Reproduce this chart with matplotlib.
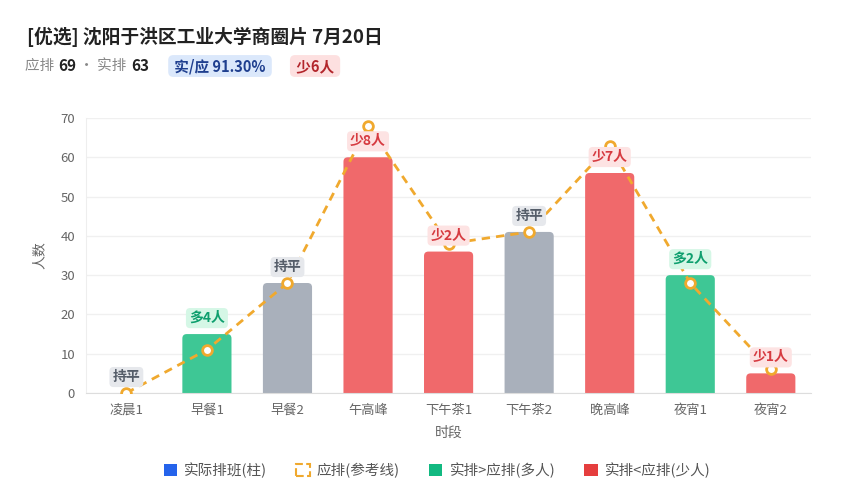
import matplotlib
matplotlib.use("Agg")
import matplotlib.pyplot as plt
from matplotlib.patches import Patch, FancyBboxPatch

plt.rcParams['font.family'] = ['Noto Sans CJK SC', 'DejaVu Sans']

# data
slots = ['凌晨1', '早餐1', '早餐2', '午高峰', '下午茶1', '下午茶2', '晚高峰', '夜宵1', '夜宵2']
actual = [0, 15, 28, 60, 36, 41, 56, 30, 5]
required = [0, 11, 28, 68, 38, 41, 63, 28, 6]
total_required = 69
total_actual = 63

GREEN = '#3ec795'
RED = '#f0696b'
GRAY = '#a9b0bb'
ORANGE = '#f0a92e'

fig = plt.figure(figsize=(8.44, 5.0), dpi=100)
ax = fig.add_axes([0.102, 0.214, 0.859, 0.55])

x = list(range(len(slots)))
colors = []
tags = []
for a, r in zip(actual, required):
    if a > r:
        colors.append(GREEN)
        tags.append(('多%d人' % (a - r), '#d5f7e6', '#0e9f6e'))
    elif a < r:
        colors.append(RED)
        tags.append(('少%d人' % (r - a), '#fde3e3', '#d63a40'))
    else:
        colors.append(GRAY)
        tags.append(('持平', '#e6e8ec', '#555d69'))

ax.set_xlim(-0.5, len(slots) - 0.5)
ax.set_ylim(0, 70)

# bars with rounded tops (bottom pushed below the axis and clipped)
bw = 0.61
for xi, a, c in zip(x, actual, colors):
    if a <= 0:
        continue
    p = FancyBboxPatch((xi - bw / 2, -3), bw, a + 3,
                       boxstyle='round,pad=0,rounding_size=0.055',
                       mutation_aspect=20, fc=c, ec='none', zorder=2)
    ax.add_patch(p)

ax.plot(x, required, color=ORANGE, linestyle=(0, (3, 2.2)), linewidth=2,
        marker='o', markersize=7, markerfacecolor='white', markeredgewidth=2,
        markeredgecolor=ORANGE, zorder=3)

for xi, a, (txt, bg, fg) in zip(x, actual, tags):
    ax.annotate(txt, (xi, a), xytext=(0, 11.5), textcoords='offset points',
                ha='center', va='center', fontsize=10, fontweight='bold', color=fg,
                bbox=dict(boxstyle='round,pad=0.22,rounding_size=0.3', fc=bg, ec='none'),
                zorder=4)

ax.set_yticks(range(0, 71, 10))
ax.set_xticks(x)
ax.set_xticklabels(slots)
ax.tick_params(length=0, labelsize=9.5, colors='#666666', pad=8)
ax.grid(axis='y', color='#f0f0f0', linewidth=1, zorder=0)
for s in ['top', 'right']:
    ax.spines[s].set_visible(False)
ax.spines['left'].set_color('#eeeeee')
ax.spines['bottom'].set_color('#dddddd')
ax.set_ylabel('人数', fontsize=10, color='#666666', labelpad=10)
ax.set_xlabel('时段', fontsize=10, color='#666666', labelpad=6)

# header
fig.text(27 / 844, 1 - 37 / 500, '[优选] 沈阳于洪区工业大学商圈片 7月20日',
         fontsize=13.5, fontweight='bold', color='#222222', va='center')

renderer = fig.canvas.get_renderer()
pos = 25
yy = 1 - 66 / 500
parts = [
    ('应排 ', '#888888', 'normal', None, 1, 10.5),
    (str(total_required), '#222222', 'bold', None, 0, 11),
    (' · 实排 ', '#888888', 'normal', None, 1, 10.5),
    (str(total_actual), '#222222', 'bold', None, 22, 11),
    (' 实/应 %.2f%% ' % (total_actual / total_required * 100), '#1f3f8f', 'bold', '#dbe8fb', 24, 10.5),
    (' 少%d人 ' % (total_required - total_actual), '#b3262c', 'bold', '#fde0e0', 0, 10.5),
]
for txt, col, w, bg, gap, fs in parts:
    kw = {}
    if bg:
        kw['bbox'] = dict(boxstyle='round,pad=0.2,rounding_size=0.35', fc=bg, ec='none')
    t = fig.text(pos / 844, yy, txt, fontsize=fs, color=col, fontweight=w, va='center', **kw)
    ext = t.get_window_extent(renderer)
    pos = ext.x1 + gap

handles = [
    Patch(facecolor='#2563eb', edgecolor='none', label='实际排班(柱)'),
    Patch(facecolor='none', edgecolor=ORANGE, linestyle='--', linewidth=1.5, label='应排(参考线)'),
    Patch(facecolor='#12b981', edgecolor='none', label='实排>应排(多人)'),
    Patch(facecolor='#e53e3e', edgecolor='none', label='实排<应排(少人)'),
]
leg = fig.legend(handles=handles, loc='center', bbox_to_anchor=(0.518, 1 - 470 / 500), ncol=4,
                 frameon=False, fontsize=10.5, handlelength=0.9, handleheight=0.9,
                 handletextpad=0.5, columnspacing=2.0)
for t in leg.get_texts():
    t.set_color('#555555')

fig.savefig('out.png', dpi=100, facecolor='white')
